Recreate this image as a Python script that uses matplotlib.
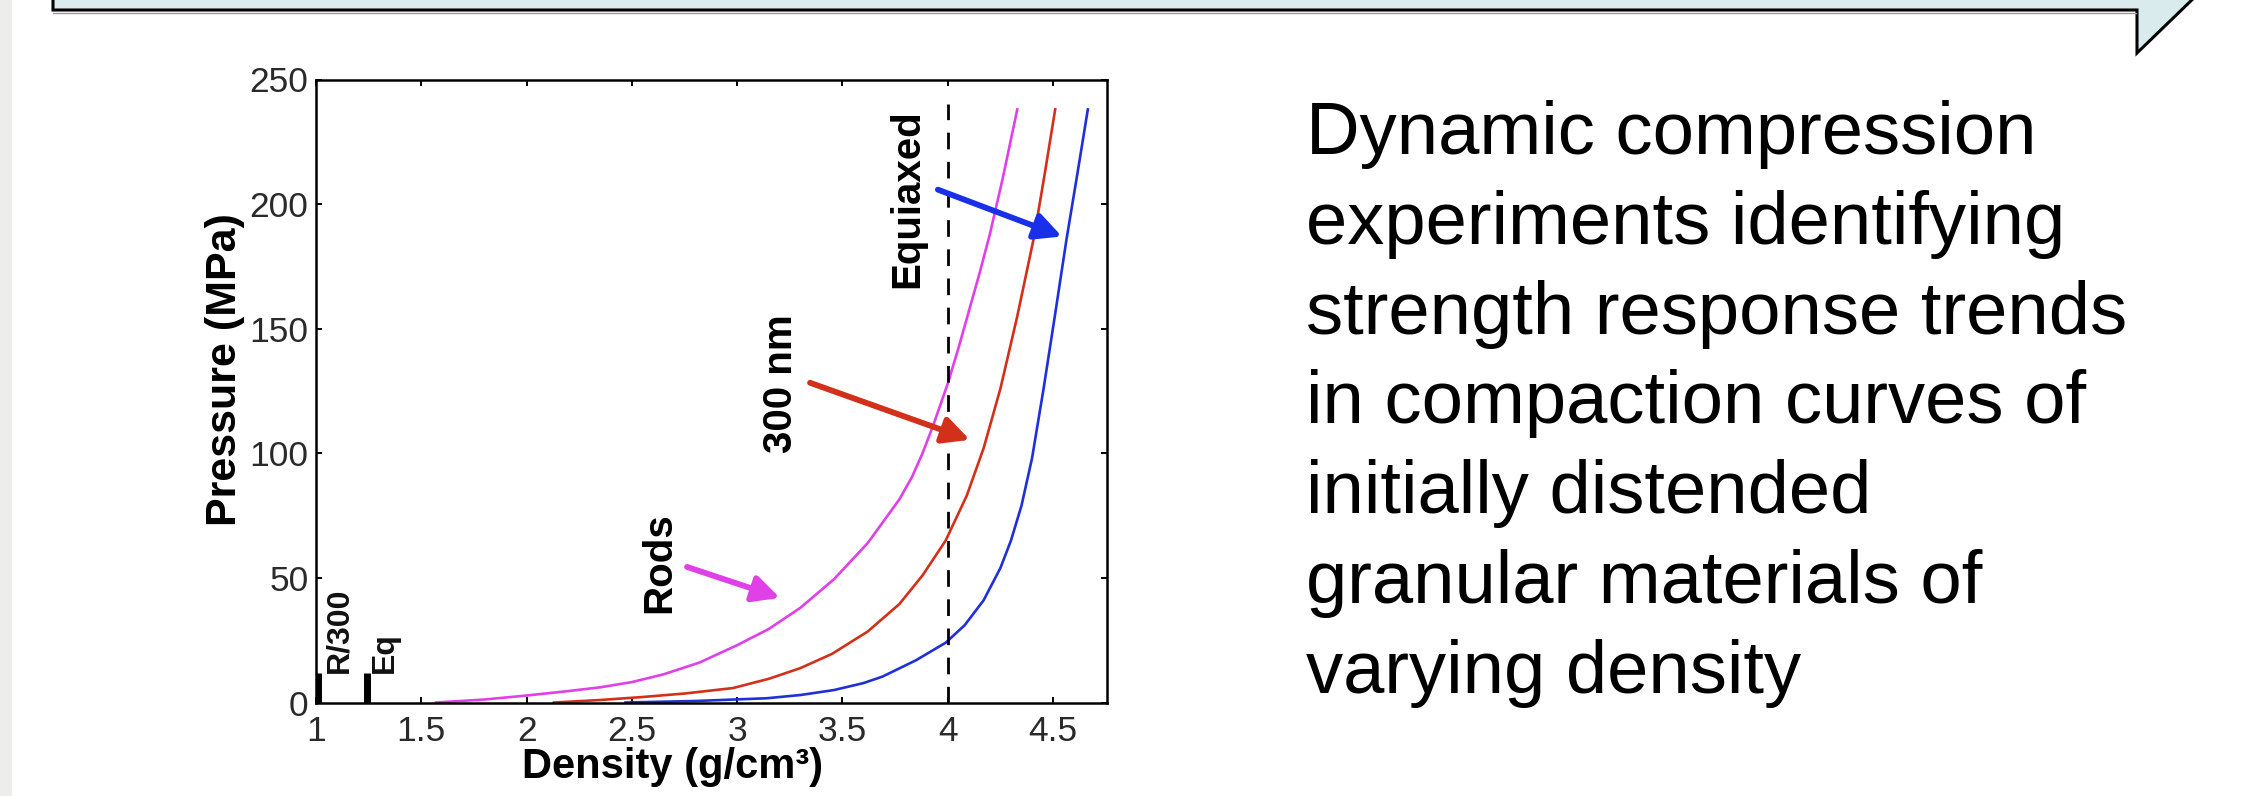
import numpy as np
import matplotlib
import matplotlib.pyplot as plt
from matplotlib.patches import Polygon, Rectangle

matplotlib.use('Agg')
plt.rcParams['font.family'] = ['Liberation Sans', 'DejaVu Sans']

# compaction curves (density g/cm3, pressure MPa)
rods_x = [1.57, 1.8, 2.0, 2.2, 2.35, 2.5, 2.65, 2.82, 3.0, 3.15, 3.3, 3.46,
          3.62, 3.77, 3.83, 3.88, 3.93, 4.0, 4.05, 4.1, 4.15, 4.2, 4.26, 4.33]
rods_p = [0, 1.2, 2.8, 4.6, 6.1, 8.2, 11.3, 16, 23, 29.5, 38, 49.5,
          64, 81.5, 90.5, 100, 111, 128, 142, 157, 172, 188, 210, 238]

nm300_x = [2.13, 2.35, 2.55, 2.75, 2.98, 3.15, 3.3, 3.45, 3.62, 3.77, 3.88,
           3.99, 4.09, 4.17, 4.25, 4.33, 4.41, 4.46, 4.51]
nm300_p = [0, 1.0, 2.2, 3.6, 5.8, 9.5, 13.8, 19.5, 28.5, 39.5, 51,
           65, 83, 102, 126, 155, 187, 212, 238]

equi_x = [2.47, 2.8, 3.14, 3.3, 3.46, 3.6, 3.69, 3.85, 3.99, 4.08, 4.17,
          4.25, 4.3, 4.35, 4.4, 4.455, 4.51, 4.564, 4.615, 4.665]
equi_p = [0, 0.6, 1.7, 3.0, 5.0, 7.8, 10.4, 17, 24, 31, 41,
          54, 65, 79, 98, 126, 156, 186, 212, 238]

# initial densities marked at the bottom left
init_x = [1.01, 1.24]
init_h = [11.8, 11.8]
init_labels = ['R/300', 'Eq']

xticks = [1, 1.5, 2, 2.5, 3, 3.5, 4, 4.5]
xtick_labels = ['1', '1.5', '2', '2.5', '3', '3.5', '4', '4.5']
yticks = [0, 50, 100, 150, 200, 250]

caption = ['Dynamic compression', 'experiments identifying',
           'strength response trends', 'in compaction curves of',
           'initially distended', 'granular materials of', 'varying density']

W, H = 2257, 796
fig = plt.figure(figsize=(W / 100, H / 100), dpi=100)


def fx(px):
    return px / W


def fy(py):
    return 1 - py / H


# slide decorations: grey strip on the left, callout banner on top
fig.patches.append(Rectangle((0, 0), fx(12), 1, transform=fig.transFigure,
                             facecolor='#EDEDEB', edgecolor='none'))
banner = [(53, -6), (53, 10), (2137, 10), (2137, 53), (2198, -6)]
fig.patches.append(Polygon([(fx(a), fy(b)) for a, b in banner], closed=False,
                           transform=fig.transFigure, facecolor='#DAEBEE',
                           edgecolor='black', lw=2.2, joinstyle='miter'))
fig.lines.append(plt.Line2D([fx(53), fx(2136)], [fy(12.8), fy(12.8)],
                            transform=fig.transFigure, color='#9a9a9a', lw=1.0))

ax = fig.add_axes([fx(316), fy(702.5), fx(1107 - 316), (702.5 - 79.5) / H])

ax.plot(rods_x, rods_p, color='#E040E8', lw=1.9)
ax.plot(nm300_x, nm300_p, color='#D2301A', lw=1.9)
ax.plot(equi_x, equi_p, color='#2030D8', lw=1.9)
ax.vlines(4.0, 0, 240, colors='black', lw=2.0, linestyles=(0, (6, 4.5)))

ax.vlines(init_x, 0, init_h, colors='black', lw=5)
for xv, hv, lab, bx in zip(init_x, init_h, init_labels, [1.147, 1.367]):
    ax.text(bx, hv, lab, rotation=90, rotation_mode='anchor', ha='left',
            va='baseline', fontsize=23, fontweight='bold', color='#111111')

# labels with arrows
notes = [('Rods', (2.681, 35.9), (2.762, 54.4), (3.203, 42.0), '#E040E8'),
         ('300 nm', (3.260, 100.2), (3.346, 128.3), (4.105, 105.4), '#D2301A'),
         ('Equiaxed', (3.859, 166.5), (3.953, 205.8), (4.542, 187.0), '#1a30E8')]
for txt, tpos, start, tip, col in notes:
    ax.text(tpos[0], tpos[1], txt, rotation=90, rotation_mode='anchor',
            ha='left', va='baseline', fontsize=29, fontweight='bold')
    ax.annotate('', xy=tip, xytext=start,
                arrowprops=dict(arrowstyle='-|>', color=col, lw=4.2,
                                mutation_scale=40, shrinkA=0, shrinkB=0))

ax.set_xlim(1, 4.756)
ax.set_ylim(0, 250)
ax.set_xticks(xticks)
ax.set_xticklabels(xtick_labels)
ax.set_yticks(yticks)
ax.tick_params(direction='in', length=4.5, width=1.4, top=True, right=True,
               labelsize=25.5, labelcolor='#2a2a2a')
ax.tick_params(axis='x', pad=9)
ax.tick_params(axis='y', pad=5.5)
for s in ax.spines.values():
    s.set_linewidth(1.8)

ax.set_ylabel('Pressure (MPa)', fontsize=31, fontweight='bold')
ax.yaxis.set_label_coords(-0.0898, 0.535)
ax.set_xlabel('Density (g/cm³)', fontsize=30, fontweight='bold')
ax.xaxis.set_label_coords(0.451, -0.0714)

baselines = [154, 244, 334, 423, 513, 603, 693]
for line, by in zip(caption, baselines):
    fig.text(fx(1306), fy(by), line, fontsize=53.5, va='baseline', ha='left',
             color='black')

fig.savefig('out.png', dpi=100)
